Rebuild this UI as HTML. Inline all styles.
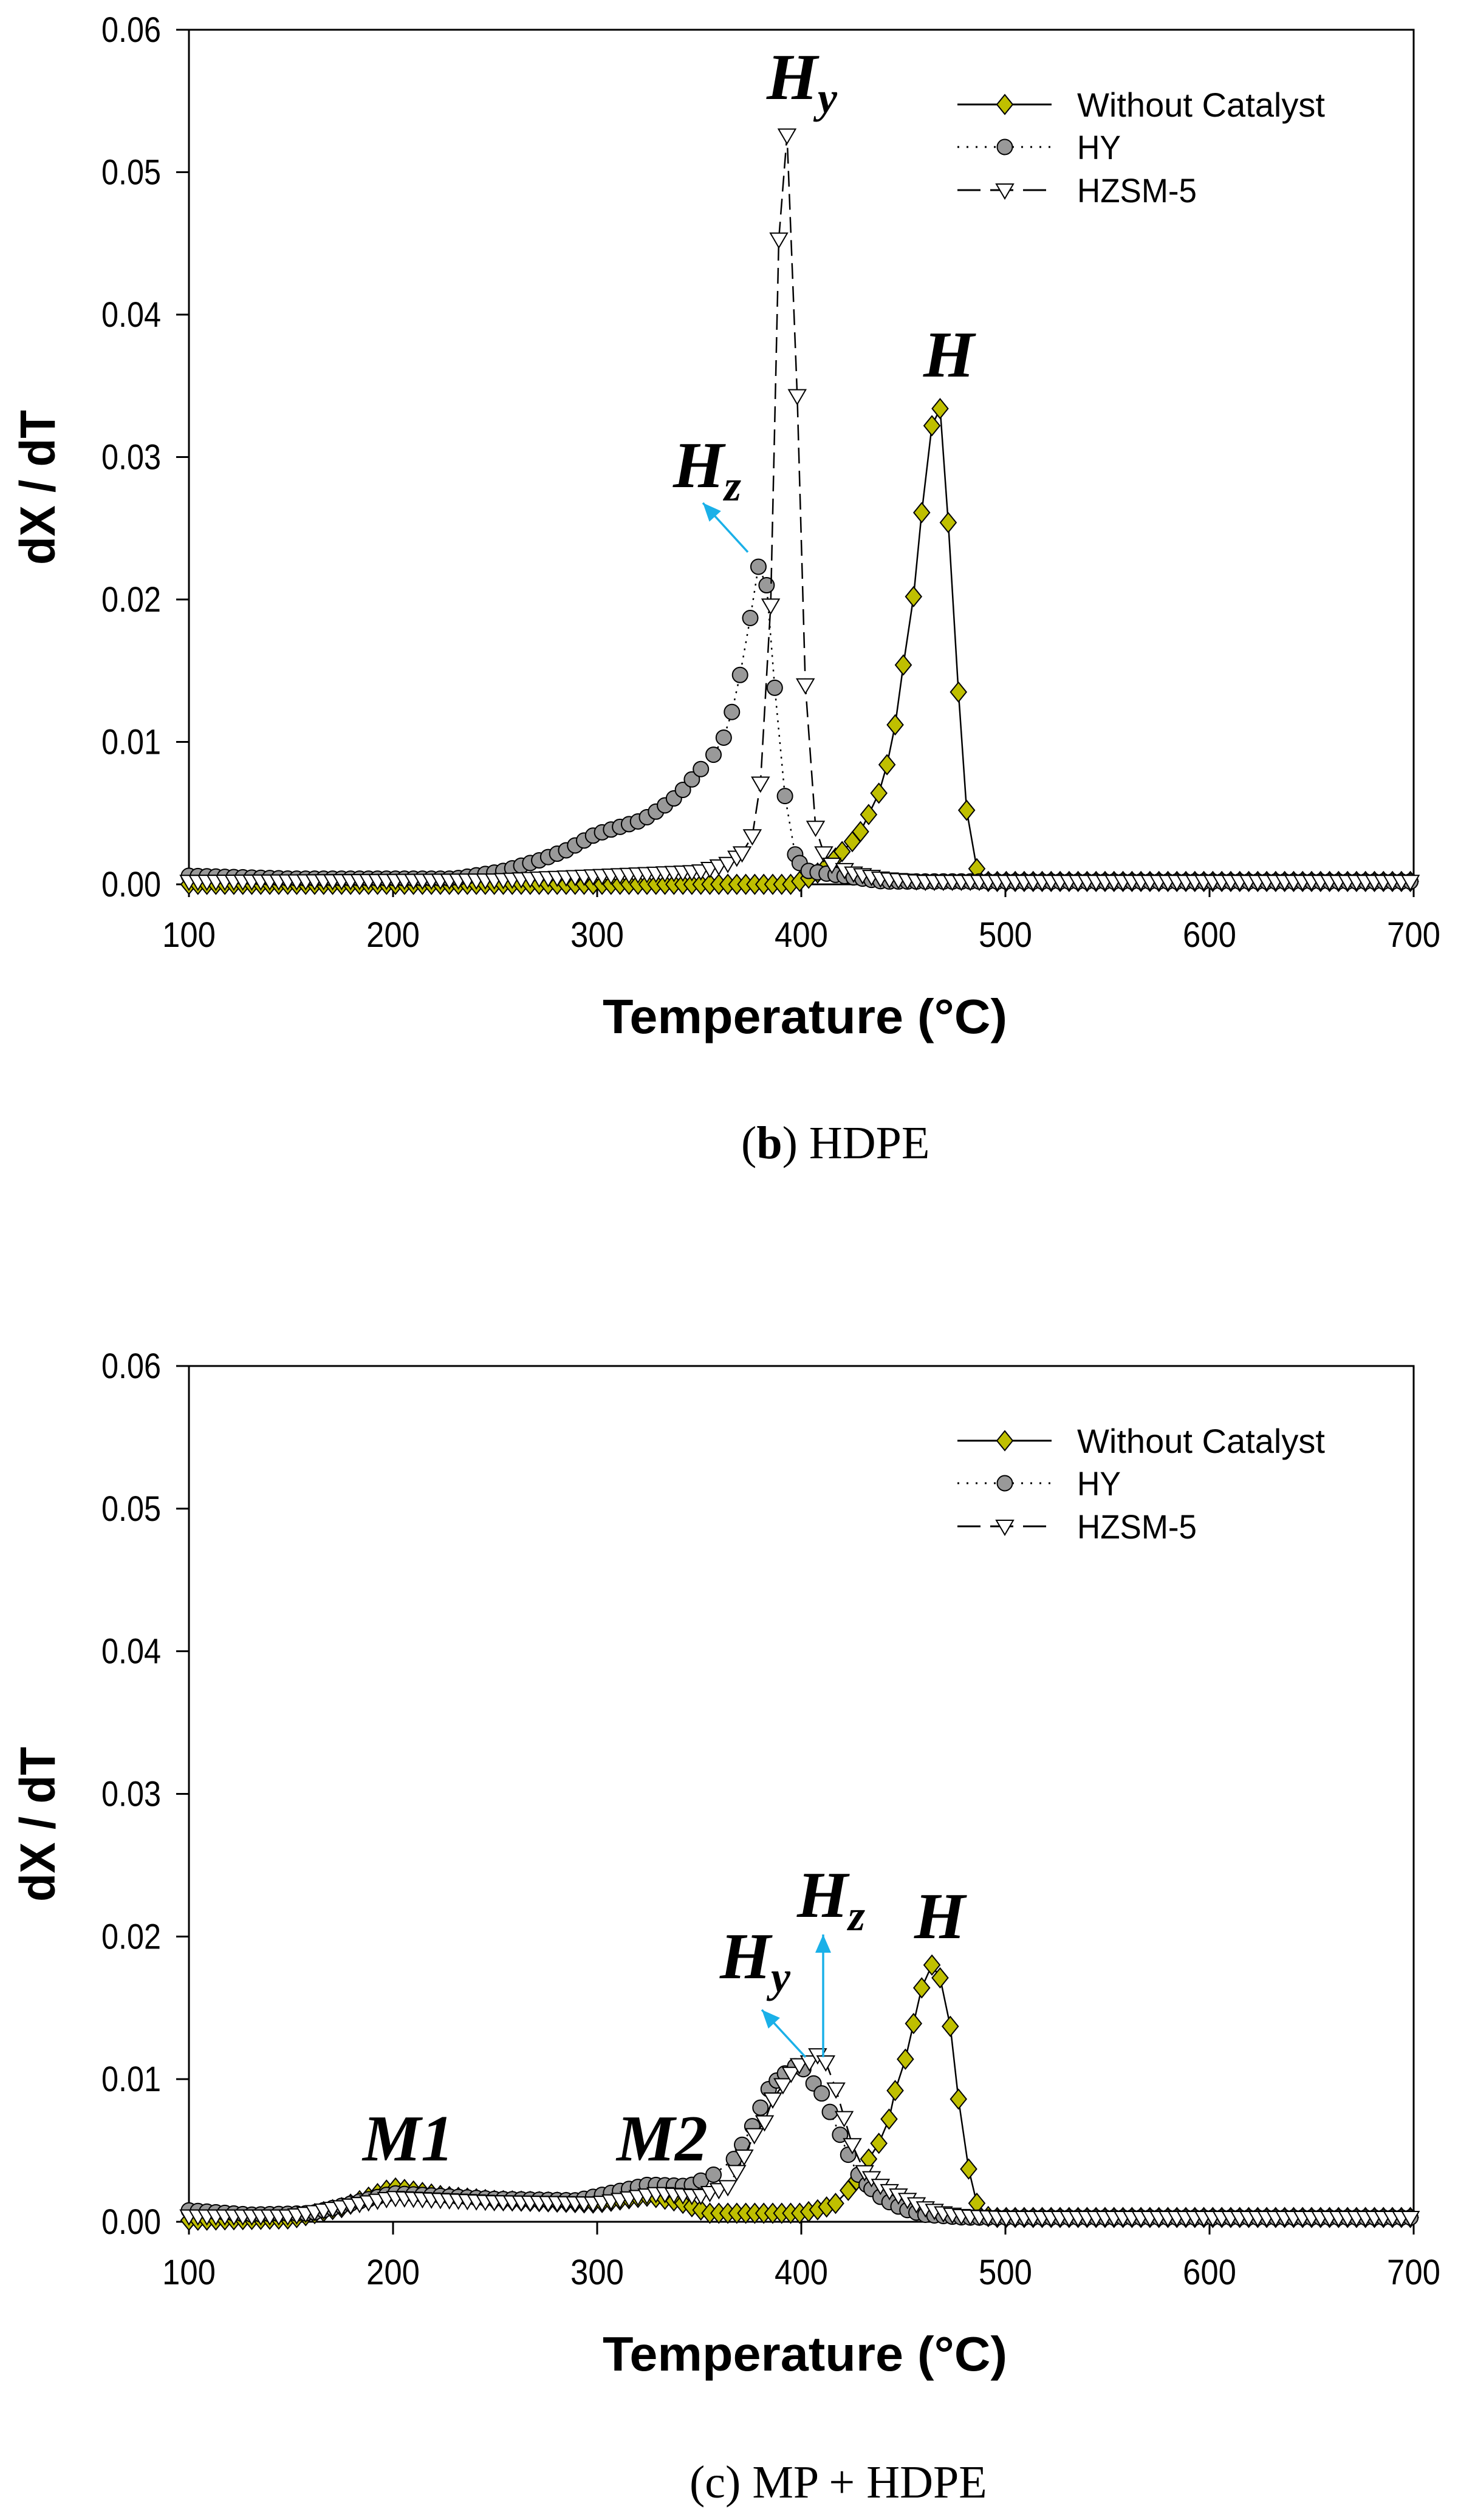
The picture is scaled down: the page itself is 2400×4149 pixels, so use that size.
<!DOCTYPE html>
<html><head><meta charset="utf-8"><style>
html,body{margin:0;padding:0;background:#fff}
svg{display:block}
</style></head><body>
<svg id="s" xmlns="http://www.w3.org/2000/svg" width="2400" height="4149" viewBox="0 0 2400 4149">
<rect width="2400" height="4149" fill="#fff"/>
</svg>
<script>
const NS="http://www.w3.org/2000/svg";
const S=document.getElementById('s');
function el(tag,attrs,parent,text){const e=document.createElementNS(NS,tag);for(const k in attrs)e.setAttribute(k,attrs[k]);if(text!==undefined)e.textContent=text;(parent||S).appendChild(e);return e;}
function interp(pts,T){if(T<=pts[0][0])return pts[0][1];for(let i=1;i<pts.length;i++){if(T<=pts[i][0]){const a=pts[i-1],b=pts[i];return a[1]+(b[1]-a[1])*(T-a[0])/(b[0]-a[0]);}}return pts[pts.length-1][1];}
const L=311,R=2327;
function X(T){return L+(T-100)/600*(R-L);}
function diamond(g,x,y){el('polygon',{points:`${x},${y-16} ${x+13},${y} ${x},${y+16} ${x-13},${y}`,fill:'#bfbf00',stroke:'#000','stroke-width':2},g);}
function circle(g,x,y){el('circle',{cx:x,cy:y,r:12.5,fill:'#999',stroke:'#000','stroke-width':2},g);}
function tri(g,x,y){el('polygon',{points:`${x-14},${y-10} ${x+14},${y-10} ${x},${y+14}`,fill:'#fff',stroke:'#000','stroke-width':2},g);}
function chart(top,bot,data,ann){
  const Y=v=>bot-v/0.06*(bot-top);
  el('rect',{x:L,y:top,width:R-L,height:bot-top,fill:'none',stroke:'#000','stroke-width':3});
  for(let i=0;i<=6;i++){const y=Y(i*0.01);el('line',{x1:L-21,y1:y,x2:L,y2:y,stroke:'#000','stroke-width':3});
    el('text',{x:265,y:y+20,'text-anchor':'end','font-family':'Liberation Sans, sans-serif','font-size':58,textLength:'98',lengthAdjust:'spacingAndGlyphs'},S,'0.0'+i);}
  for(let t=100;t<=700;t+=100){const x=X(t);el('line',{x1:x,y1:bot,x2:x,y2:bot+21,stroke:'#000','stroke-width':3});
    el('text',{x:x,y:bot+103,'text-anchor':'middle','font-family':'Liberation Sans, sans-serif','font-size':58,textLength:'88',lengthAdjust:'spacingAndGlyphs'},S,String(t));}
  el('text',{x:1325,y:bot+245,'text-anchor':'middle','font-family':'Liberation Sans, sans-serif','font-size':80,'font-weight':'bold',textLength:'666',lengthAdjust:'spacingAndGlyphs'},S,'Temperature (°C)');
  const cy=(top+bot)/2+50;
  el('text',{x:0,y:0,transform:`translate(90,${cy}) rotate(-90)`,'text-anchor':'middle','font-family':'Liberation Sans, sans-serif','font-size':82,'font-weight':'bold',textLength:'255',lengthAdjust:'spacingAndGlyphs'},S,'dX / dT');
  const styles=[{dash:'none',m:diamond},{dash:'3 9',m:circle},{dash:'26 12',m:tri}];
  data.forEach((ser,i)=>{
    const pts=ser.p,lo=ser.r[0],hi=ser.r[1];
    const g=el('g',{});const P=[];
    for(let T=100;T<=700.01;T+=4.4){if(T>=lo&&T<=hi)continue;P.push([T,interp(pts,T)]);}
    pts.forEach(p=>{if(p[0]>=lo&&p[0]<=hi)P.push(p);});
    P.sort((a,b)=>a[0]-b[0]);
    let d='';P.forEach(p=>{d+=(d?'L':'M')+X(p[0]).toFixed(1)+','+Y(p[1]).toFixed(1);});
    el('path',{d:d,fill:'none',stroke:'#000','stroke-width':2.5,'stroke-dasharray':styles[i].dash},g);
    P.forEach(p=>styles[i].m(g,X(p[0]),Y(p[1])));
  });
  const ly=[top+123,top+193,top+264];
  el('line',{x1:1576,y1:ly[0],x2:1731,y2:ly[0],stroke:'#000','stroke-width':3});diamond(S,1654,ly[0]);
  el('line',{x1:1576,y1:ly[1],x2:1731,y2:ly[1],stroke:'#000','stroke-width':3,'stroke-dasharray':'3 12'});circle(S,1654,ly[1]);
  el('line',{x1:1576,y1:ly[2],x2:1731,y2:ly[2],stroke:'#000','stroke-width':3,'stroke-dasharray':'38 16'});tri(S,1654,ly[2]);
  const names=['Without Catalyst','HY','HZSM-5'],wl=[408,72,197];
  names.forEach((n,i)=>el('text',{x:1773,y:ly[i]+20,'font-family':'Liberation Sans, sans-serif','font-size':56,textLength:wl[i],lengthAdjust:'spacingAndGlyphs'},S,n));
  ann(Y);
}
function H(x,y,sub){const t=el('text',{x:x,y:y,'font-family':'Liberation Serif, serif','font-size':108,'font-weight':'bold','font-style':'italic'},S);
  el('tspan',{},t,'H');if(sub){el('tspan',{'font-size':72,dy:22},t,sub);}return t;}
function arrow(x1,y1,x2,y2){const c='#1ab0e8';el('line',{x1,y1,x2,y2,stroke:c,'stroke-width':3.5});
  const a=Math.atan2(y2-y1,x2-x1),l=30,w=13;const bx=x2-l*Math.cos(a),by=y2-l*Math.sin(a);
  el('polygon',{points:`${x2},${y2} ${bx+w*Math.sin(a)},${by-w*Math.cos(a)} ${bx-w*Math.sin(a)},${by+w*Math.cos(a)}`,fill:c});}

const b0=[[100,0],[395,0],[405,0.0005],[410,0.001],[415,0.0016],[420,0.0023],[425,0.003],[429,0.0037],[433,0.0049],[438,0.0064],[442,0.0084],[446,0.0112],[450,0.0154],[455,0.0202],[459,0.0261],[464,0.0322],[468,0.0334],[472,0.0254],[477,0.0135],[481,0.0052],[486,0.0011],[490,0.0002],[700,0.0002]];
const b1=[[100,0.0006],[150,0.0004],[230,0.0004],[253,0.0009],[272,0.0017],[285,0.0024],[299,0.0035],[308,0.0039],[322,0.0045],[331,0.0053],[340,0.0063],[349,0.0078],[357,0.0091],[362,0.0103],[366,0.0121],[370,0.0147],[375,0.0187],[379,0.0223],[383,0.021],[387,0.0138],[392,0.0062],[397,0.0021],[401,0.001],[410,0.0008],[425,0.0005],[440,0.0002],[700,0.0002]];
const b2=[[100,0.0002],[250,0.0003],[300,0.0006],[350,0.0009],[365,0.0015],[371,0.0022],[376,0.0034],[380,0.0071],[385,0.0196],[389,0.0453],[393,0.0526],[398,0.0343],[402,0.014],[407,0.004],[411,0.0022],[415,0.0014],[425,0.0008],[440,0.0004],[460,0.0002],[700,0.0002]];
chart(49,1456,[{p:b0,r:[418,488]},{p:b1,r:[355,399]},{p:b2,r:[369,417]}],Y=>{
  H(1262,163,'y');H(1520,620);H(1108,802,'z');arrow(1231,909,1157,828);
});
el('text',{x:1220,y:1907,'font-family':'Liberation Serif, serif','font-size':76},S).innerHTML='(<tspan font-weight="bold">b</tspan>) HDPE';

const c0=[[100,0.0001],[150,0.0002],[175,0.001],[200,0.0024],[225,0.0018],[250,0.0015],[300,0.0013],[325,0.0018],[340,0.0014],[355,0.0006],[400,0.0006],[410,0.0009],[417,0.0013],[423,0.0022],[427,0.0029],[433,0.0044],[438,0.0055],[443,0.0072],[446,0.0092],[451,0.0114],[455,0.0139],[459,0.0164],[464,0.018],[468,0.0171],[473,0.0137],[477,0.0086],[482,0.0037],[486,0.0013],[492,0.0003],[700,0.0003]];
const c1=[[100,0.0008],[130,0.0005],[160,0.0006],[200,0.002],[250,0.0016],[290,0.0015],[325,0.0026],[345,0.0025],[357,0.0033],[367,0.0044],[371,0.0054],[376,0.0067],[380,0.008],[384,0.0093],[388,0.0099],[392,0.0104],[397,0.0109],[401,0.0107],[406,0.0097],[410,0.009],[414,0.0077],[419,0.0061],[423,0.0047],[428,0.0033],[432,0.0026],[440,0.0016],[450,0.0009],[460,0.0005],[480,0.0003],[700,0.0003]];
const c2=[[100,0.0004],[150,0.0004],[200,0.0017],[250,0.0014],[300,0.0013],[330,0.002],[350,0.0018],[365,0.0025],[372,0.0046],[377,0.0061],[382,0.007],[386,0.0086],[391,0.0096],[395,0.0104],[399,0.011],[404,0.0112],[408,0.0117],[412,0.0112],[417,0.0093],[421,0.0073],[425,0.0054],[431,0.0035],[440,0.0024],[450,0.0017],[460,0.001],[470,0.0006],[480,0.0004],[500,0.0003],[700,0.0003]];
chart(2249,3658,[{p:c0,r:[421,488]},{p:c1,r:[355,434]},{p:c2,r:[370,433]}],Y=>{
  const m=(x,t)=>el('text',{x:x,y:3557,'font-family':'Liberation Serif, serif','font-size':108,'font-weight':'bold','font-style':'italic'},S,t);
  m(597,'M1');m(1015,'M2');
  H(1185,3257,'y');H(1312,3156,'z');H(1505,3191);
  arrow(1326,3387,1254,3309);arrow(1355,3387,1355,3185);
});
el('text',{x:1135,y:4112,'font-family':'Liberation Serif, serif','font-size':76},S,'(c) MP + HDPE');
</script>
</body></html>
